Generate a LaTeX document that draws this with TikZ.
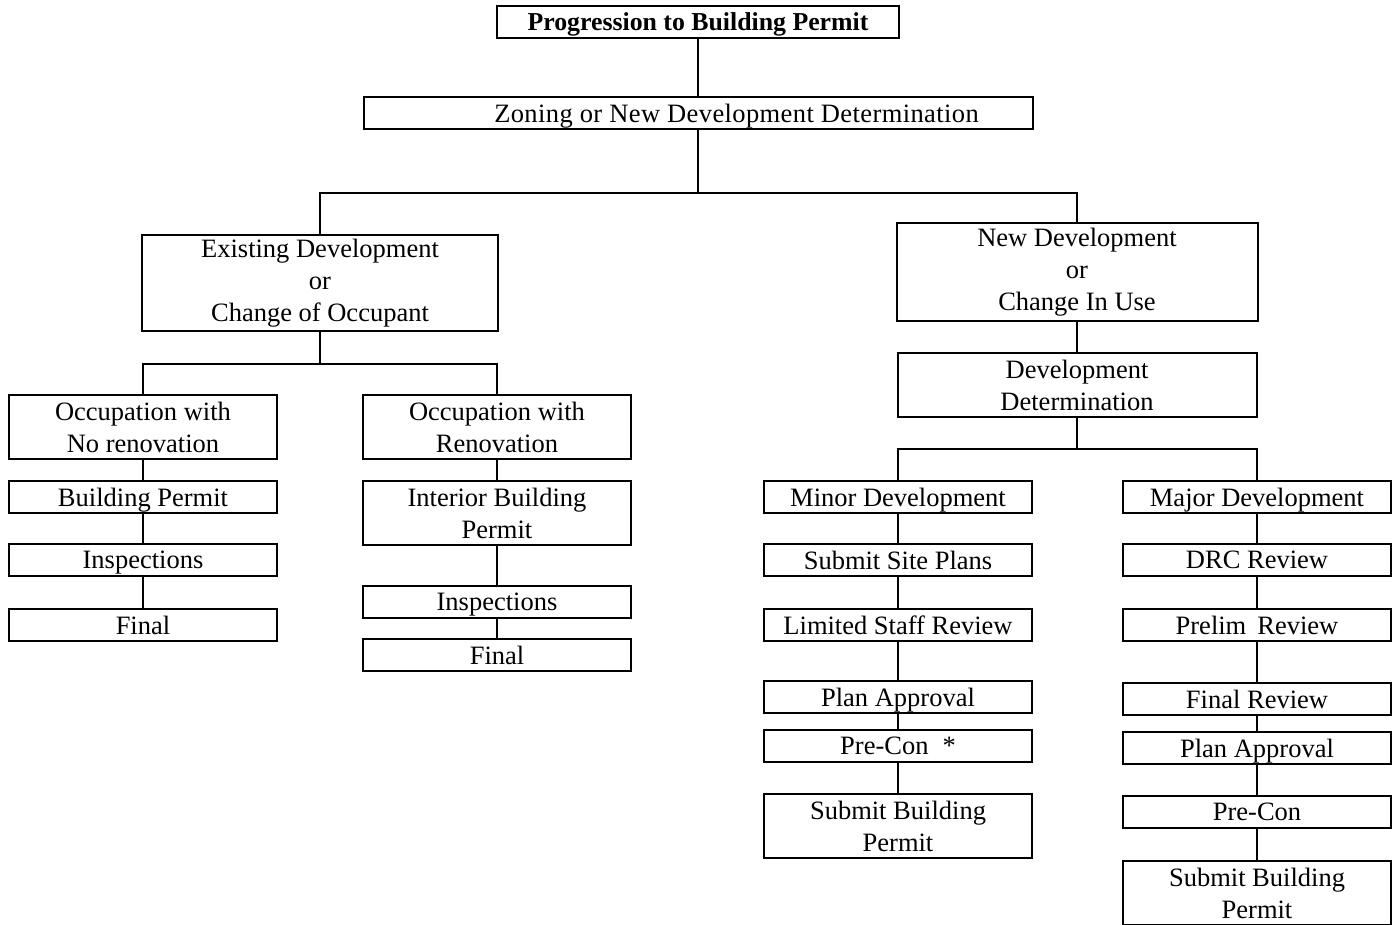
\documentclass[tikz,border=0pt]{standalone}
\usepackage{fontspec}
\setmainfont{Liberation Serif}
\usepackage{tikz}
\tikzstyle{tallbox} = [rectangle, minimum width=268pt, minimum height=64pt, inner sep=0pt, align=center, draw=black, line width=2pt, fill=white]
\tikzstyle{box} = [tallbox, minimum height=32pt, text depth=0pt]
\tikzstyle{link} = [line width=2.6pt]

\begin{document}
\begin{tikzpicture}[x=1pt, y=-1pt, font=\fontsize{26.5}{32}\selectfont]
\useasboundingbox (0,0) rectangle (1400,925);

% Top
\node (title) [box, minimum width=402pt] at (698,22) {\fontsize{25.8}{32}\selectfont\bfseries Progression to Building Permit};
\node (zone) [box, minimum width=669pt] at (698,113) {\hspace*{77pt}\addfontfeature{LetterSpace=1.5}Zoning or New Development Determination};

\node (exist) [tallbox, minimum width=356pt, minimum height=96pt] at (320,283) {Existing Development\\or\\Change of Occupant};
\node (newdev) [tallbox, minimum width=361pt, minimum height=98pt] at (1077,272) {New Development\\or\\Change In Use};

% Existing side
\node (noreno) [tallbox] at (143,427) {Occupation with\\No renovation};
\node (reno) [tallbox] at (497,427) {Occupation with\\Renovation};

\node (bp) [box] at (143,497) {Building Permit};
\node (insp1) [box] at (143,560) {Inspections};
\node (fin1) [box] at (143,625) {Final};

\node (ibp) [tallbox] at (497,513) {Interior Building\\Permit};
\node (insp2) [box] at (497,602) {Inspections};
\node (fin2) [box] at (497,655) {Final};

% New side
\node (devdet) [tallbox, minimum width=359pt] at (1077,385) {Development\\Determination};

\node (minor) [box] at (898,497) {Minor Development};
\node (site) [box] at (898,560) {Submit Site Plans};
\node (staff) [box] at (898,625) {Limited Staff Review};
\node (plan1) [box] at (898,697) {Plan Approval};
\node (precon1) [box] at (898,746) {Pre-Con \;*};
\node (sbp1) [tallbox] at (898,826) {Submit Building\\Permit};

\node (major) [box] at (1257,497) {Major Development};
\node (drc) [box] at (1257,560) {DRC Review};
\node (prelim) [box] at (1257,625) {Prelim \,Review};
\node (finrev) [box] at (1257,699) {Final Review};
\node (plan2) [box] at (1257,748) {Plan Approval};
\node (precon2) [box] at (1257,812) {Pre-Con};
\node (sbp2) [tallbox] at (1257,893) {Submit Building\\Permit};

% Branch points
\coordinate (split1) at (698,193);
\coordinate (split2) at (320,364);
\coordinate (split3) at (1077,449);

% Connecting lines
\draw [link] (title) -- (zone);
\draw [link] (zone) -- (split1);
\draw [link] (split1) -| (exist);
\draw [link] (split1) -| (newdev);

\draw [link] (exist) -- (split2);
\draw [link] (split2) -| (noreno);
\draw [link] (split2) -| (reno);

\draw [link] (noreno) -- (bp);
\draw [link] (bp) -- (insp1);
\draw [link] (insp1) -- (fin1);

\draw [link] (reno) -- (ibp);
\draw [link] (ibp) -- (insp2);
\draw [link] (insp2) -- (fin2);

\draw [link] (newdev) -- (devdet);
\draw [link] (devdet) -- (split3);
\draw [link] (split3) -| (minor);
\draw [link] (split3) -| (major);

\draw [link] (minor) -- (site);
\draw [link] (site) -- (staff);
\draw [link] (staff) -- (plan1);
\draw [link] (plan1) -- (precon1);
\draw [link] (precon1) -- (sbp1);

\draw [link] (major) -- (drc);
\draw [link] (drc) -- (prelim);
\draw [link] (prelim) -- (finrev);
\draw [link] (finrev) -- (plan2);
\draw [link] (plan2) -- (precon2);
\draw [link] (precon2) -- (sbp2);

\end{tikzpicture}
\end{document}
